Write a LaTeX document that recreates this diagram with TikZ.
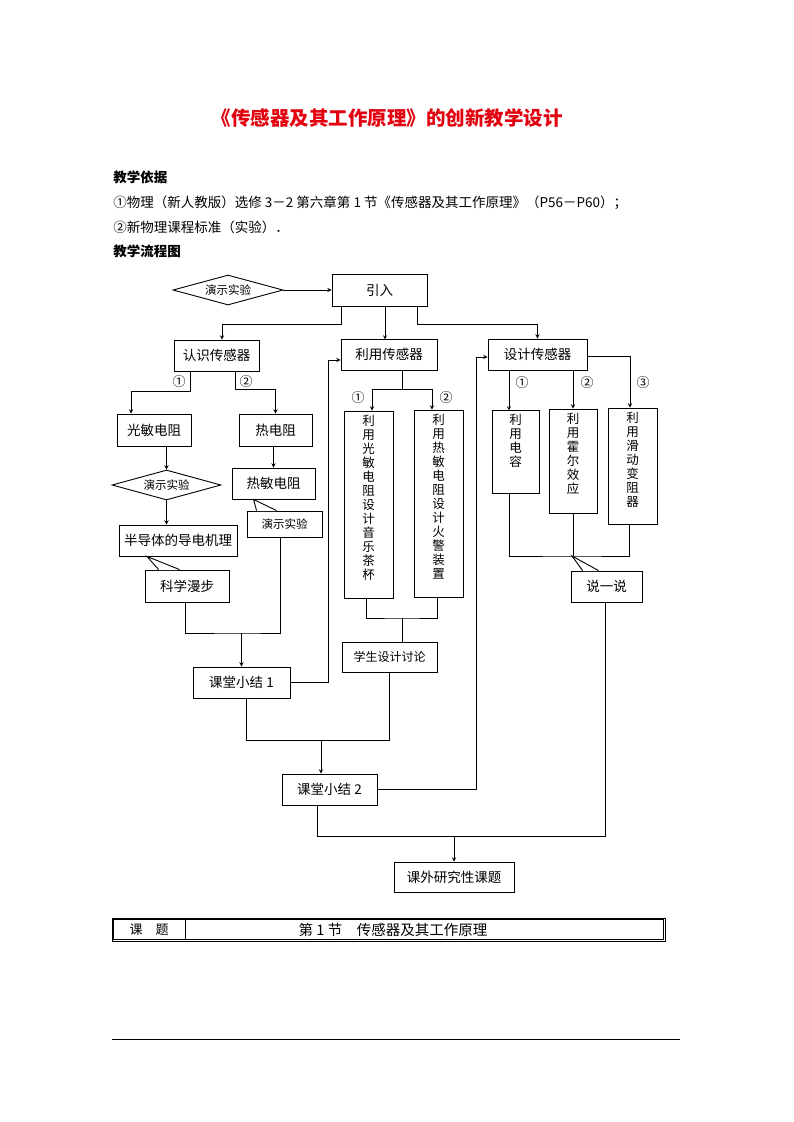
\documentclass[tikz,border=0pt]{standalone}
\usepackage{fontspec}
\setmainfont{Noto Sans CJK SC}
\usepackage{xcolor}
\usepackage{tikz}
\usetikzlibrary{shapes.geometric, positioning}

\definecolor{titlered}{HTML}{E3000F}

\tikzset{
  box/.style={draw, rectangle, inner sep=0pt, font=\fontsize{13.5}{15}\selectfont},
  demo/.style={draw, diamond, aspect=3.6, inner sep=0pt, minimum width=110pt, minimum height=30pt, font=\fontsize{11.5}{12}\selectfont},
  vbox/.style={draw, rectangle, inner xsep=0pt, inner ysep=4pt, font=\fontsize{12.5}{14}\selectfont},
  num/.style={inner sep=0pt, font=\fontsize{13}{13}\selectfont},
  txt/.style={anchor=west, inner sep=0pt, font=\fontsize{13.5}{15}\selectfont},
}

\begin{document}
\begin{tikzpicture}[x=1pt, y=-1pt, >=stealth, line width=0.9pt]
\useasboundingbox (0,0) rectangle (793,1122);
% Encabezado
\node[text=titlered, font=\bfseries\fontsize{19.5}{20}\selectfont] (title) at (387,118) {《传感器及其工作原理》的创新教学设计};
\node[txt, font=\bfseries\fontsize{13.5}{15}\selectfont] (basis) at (113,177) {教学依据};
\node[txt] (ref1) at (113,203) {①物理（新人教版）选修 3－2 第六章第 1 节《传感器及其工作原理》（P56－P60）；};
\node[txt] (ref2) at (113,227) {②新物理课程标准（实验）．};
\node[txt, font=\bfseries\fontsize{13.5}{15}\selectfont] (flow) at (113,251) {教学流程图};
% Nodos
\node[demo] (demo1) at (228,290) {演示实验};
\node[box, minimum width=95pt, minimum height=32pt] (intro) at (379.5,290) {引入};
\node[box, minimum width=85pt, minimum height=31pt] (know) at (216.5,355.5) {认识传感器};
\node[box, minimum width=96pt, minimum height=31pt] (use) at (389,354.5) {利用传感器};
\node[box, minimum width=99pt, minimum height=31pt] (design) at (537.5,354.5) {设计传感器};
\node[box, minimum width=74pt, minimum height=32pt] (photo) at (154,430) {光敏电阻};
\node[box, minimum width=73pt, minimum height=32pt] (thermo) at (275.5,430) {热电阻};
\node[demo, minimum width=109pt] (demo2) at (166.5,485) {演示实验};
\node[box, minimum width=118pt, minimum height=31pt] (semi) at (178,540.5) {半导体的导电机理};
\node[box, minimum width=84pt, minimum height=32pt] (walk) at (187,586) {科学漫步};
\node[box, minimum width=83pt, minimum height=31pt] (thermistor) at (273.5,483.5) {热敏电阻};
\node[box, minimum width=75pt, minimum height=26pt, font=\fontsize{11.5}{12}\selectfont] (demo3) at (284.5,524) {演示实验};
\node[box, minimum width=97pt, minimum height=31pt] (sum1) at (241.5,682.5) {课堂小结 1};
\node[vbox, minimum width=49pt] (cupA) at (368.5,504.5) {\parbox[t][179pt][t]{1em}{\centering 利\\用\\光\\敏\\电\\阻\\设\\计\\音\\乐\\茶\\杯}};
\node[vbox, minimum width=49pt] (alarmB) at (438.5,503.5) {\parbox[t][179pt][t]{1em}{\centering 利\\用\\热\\敏\\电\\阻\\设\\计\\火\\警\\装\\置}};
\node[box, minimum width=95pt, minimum height=30pt, font=\fontsize{12}{13}\selectfont] (discuss) at (389.5,657) {学生设计讨论};
\node[vbox, minimum width=47pt] (cap) at (515.5,451.5) {\parbox[t][75pt][t]{1em}{\centering 利\\用\\电\\容}};
\node[vbox, minimum width=48pt] (hall) at (573,461) {\parbox[t][96pt][t]{1em}{\centering 利\\用\\霍\\尔\\效\\应}};
\node[vbox, minimum width=49pt] (rheo) at (632.5,466) {\parbox[t][108pt][t]{1em}{\centering 利\\用\\滑\\动\\变\\阻\\器}};
\node[box, minimum width=71pt, minimum height=31pt] (talk) at (606.5,586.5) {说一说};
\node[box, minimum width=95pt, minimum height=31pt] (sum2) at (329.5,789.5) {课堂小结 2};
\node[box, minimum width=120pt, minimum height=30pt] (extra) at (454,877) {课外研究性课题};
% Numeros
\node[num] (n1) at (179,382) {①};
\node[num] (n2) at (246,382) {②};
\node[num] (n3) at (358,398) {①};
\node[num] (n4) at (446,398) {②};
\node[num] (n5) at (522,383) {①};
\node[num] (n6) at (587,383) {②};
\node[num] (n7) at (643,383) {③};
% Conexiones
\draw[->] (demo1.east) -- (intro.west);
\draw[->] ([xshift=10pt]intro.south west) -- ++(0,18) -| ([xshift=5.5pt]know.north);
\draw[->] ([xshift=5.5pt]intro.south) -- ++(0,33);
\draw[->] ([xshift=-10pt]intro.south east) -- ++(0,18) -| (design.north);
\draw[->] ([xshift=17pt]know.south west) -- ++(0,20) -| ([xshift=-23pt]photo.north);
\draw[->] ([xshift=62pt]know.south west) -- ++(0,18) -| (thermo.north);
\draw[->] (demo2.north |- photo.south) -- (demo2.north);
\draw[->] (demo2.south) -- (demo2.south |- semi.north);
\draw[->] (thermistor.north |- thermo.south) -- (thermistor.north);
\coordinate (m1) at (241.5,633);
\draw ([xshift=-2pt]walk.south) |- (m1) -| ([xshift=-4.5pt]demo3.south);
\draw[->] (m1) -- (sum1.north);
\draw[->] (sum1.east) -- ++(38,0) |- ([yshift=-5.5pt]use.west);
\draw[->] ([xshift=13pt]use.south) -- ++(0,19) -| ([xshift=3.5pt]cupA.north);
\draw[->] ([xshift=13pt]use.south) -- ++(0,19) -| ([xshift=-6.5pt]alarmB.north);
\coordinate (m2) at (402,618);
\draw ([xshift=-2.5pt]cupA.south) |- (m2) -| ([xshift=-1.5pt]alarmB.south);
\draw (m2) -- (m2 |- discuss.north);
\coordinate (m3) at (321,740);
\draw ([xshift=4.5pt]sum1.south) |- (m3) -| (discuss.south);
\draw[->] (m3) -- (m3 |- sum2.north);
\draw[->] (sum2.east) -- ++(99,0) |- ([yshift=-2.5pt]design.west);
\draw[->] ([xshift=-28.5pt]design.south) -- ++(0,40);
\draw[->] (hall.north |- design.south) -- (hall.north);
\draw[->] ([yshift=-1.5pt]design.east) -| ([xshift=-2.5pt]rheo.north);
\coordinate (m4) at (575,556);
\draw ([xshift=-6.5pt]cap.south) |- (m4) -| ([xshift=-3.5pt]rheo.south);
\draw (hall.south) -- (hall.south |- m4);
\coordinate (m5) at (454,836);
\draw ([xshift=-12.5pt]sum2.south) |- (m5) -| ([xshift=-1.5pt]talk.south);
\draw[->] (m5) -- (extra.north);
% Globos
\coordinate (walkTip) at ([xshift=-31pt]semi.south);
\fill[white] ([xshift=14.5pt, yshift=-0.6pt]walk.north west) -- (walkTip) -- ([xshift=34.5pt, yshift=-0.6pt]walk.north west) -- cycle;
\draw ([xshift=14pt]walk.north west) -- (walkTip) -- ([xshift=35pt]walk.north west);
\coordinate (demoTip) at ([xshift=22pt]thermistor.south west);
\fill[white] ([xshift=10.5pt, yshift=-0.6pt]demo3.north west) -- (demoTip) -- ([xshift=29.5pt, yshift=-0.6pt]demo3.north west) -- cycle;
\draw ([xshift=10pt]demo3.north west) -- (demoTip) -- ([xshift=30pt]demo3.north west);
\coordinate (talkTip) at ([xshift=-3pt]m4);
\fill[white] ([xshift=12.5pt, yshift=-0.6pt]talk.north west) -- (talkTip) -- ([xshift=27.5pt, yshift=-0.6pt]talk.north west) -- cycle;
\draw ([xshift=12pt]talk.north west) -- (talkTip) -- ([xshift=28pt]talk.north west);
% Tabla
\node[draw, line width=0.7pt, minimum width=553pt, minimum height=23pt, inner sep=0pt] (topic) at (388.5,929.5) {};
\draw[line width=0.7pt] ([shift={(2pt,-2pt)}]topic.north west) rectangle ([shift={(-2pt,2pt)}]topic.south east);
\draw[line width=0.7pt] ([shift={(74pt,-2pt)}]topic.north west) -- ([shift={(74pt,2pt)}]topic.south west);
\node[font=\fontsize{13}{14}\selectfont] (topicLabel) at (149,930) {课\quad 题};
\node[font=\fontsize{14.5}{15}\selectfont] (topicName) at (393,930) {第 1 节\quad 传感器及其工作原理};
\draw[line width=0.8pt] (112,1039) -- (680,1039);
\end{tikzpicture}
\end{document}
